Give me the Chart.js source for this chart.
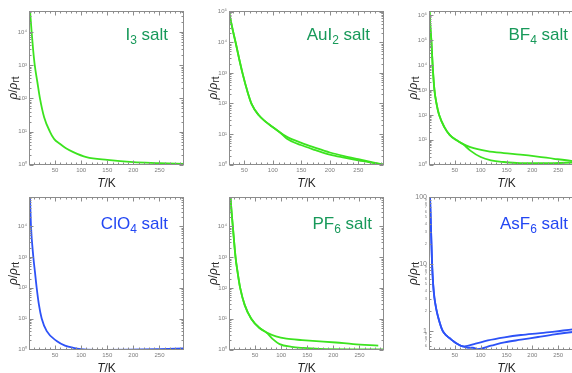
<!DOCTYPE html>
<html>
<head>
<meta charset="utf-8">
<script src="https://cdn.jsdelivr.net/npm/chart.js@4.4.1/dist/chart.umd.min.js"></script>
<style>
  html, body { margin: 0; padding: 0; background: #fff; width: 572px; height: 373px; overflow: hidden; position: relative; }
  canvas { position: absolute; }
</style>
</head>
<body>
<canvas id="p1" width="200" height="190" style="left:0;top:0"></canvas>
<canvas id="p2" width="200" height="190" style="left:200px;top:0"></canvas>
<canvas id="p3" width="200" height="190" style="left:400px;top:0"></canvas>
<canvas id="p4" width="200" height="188" style="left:0;top:185px"></canvas>
<canvas id="p5" width="200" height="188" style="left:200px;top:185px"></canvas>
<canvas id="p6" width="200" height="188" style="left:400px;top:185px"></canvas>
<script>
const FONT = '"Liberation Sans", Arial, sans-serif';
const GREEN = '#3ce31f';
const GREEN_TXT = '#18995a';
const BLUE = '#2d52f7';
const BLUE_TXT = '#2347f3';
const SUP = ['⁰', '¹', '²', '³', '⁴', '⁵', '⁶', '⁷'];

// I3 salt
const tI3 = [2.2, 5, 8, 11, 16, 21, 29, 40, 48, 59, 70, 85, 110, 150, 200, 250, 297];
const rI3 = [39800, 10000, 2800, 1000, 310, 100, 27, 10, 6.0, 4.3, 3.2, 2.4, 1.7, 1.4, 1.2, 1.12, 1.05];

// AuI2 salt: common part, then the two branches
const tAuI2 = [23, 29, 35, 41, 47, 55, 63, 75, 87, 99, 112];
const rAuI2 = [100000, 28200, 9100, 2800, 930, 260, 93, 42, 25.7, 17.4, 11.5];
const tAuI2Up = [124, 149, 175, 200, 225, 250, 275, 295];
const rAuI2Up = [8.3, 5.25, 3.55, 2.51, 1.91, 1.51, 1.2, 1.0];
const tAuI2Dn = [124, 149, 175, 200, 225, 250, 275, 295];
const rAuI2Dn = [7.2, 4.4, 3.0, 2.14, 1.7, 1.38, 1.15, 1.0];

// BF4 salt
const tBF4 = [1, 3, 4.5, 7, 10.5, 15, 19.5, 30, 40, 52, 65];
const rBF4 = [1410000, 251000, 100000, 10000, 1000, 251, 100, 31.6, 15.8, 10, 6.9];
const tBF4Up = [80, 113, 145, 177, 210, 242, 278, 300];
const rBF4Up = [5.1, 3.55, 2.95, 2.57, 2.14, 1.74, 1.41, 1.3];
const tBF4Dn = [80, 100, 120, 145, 177, 210, 242, 278, 300];
const rBF4Dn = [3.7, 2.04, 1.5, 1.29, 1.17, 1.16, 1.17, 1.23, 1.26];

// ClO4 salt
const tClO4 = [1.9, 3.8, 8.3, 11.5, 14.7, 19, 24.3, 34, 53, 69, 85, 110, 150, 193, 250, 297];
const rClO4 = [85000, 10000, 1000, 316, 100, 28.2, 10, 3.9, 1.86, 1.32, 1.12, 0.98, 0.965, 0.975, 1.02, 1.07];

// PF6 salt
const tPF6 = [2.8, 5, 7.3, 12.5, 17, 21.4, 30, 42.6, 58.6, 71.4];
const rPF6 = [89000, 28200, 10000, 1000, 282, 100, 28.2, 10, 5.0, 3.63];
const tPF6Up = [90, 110, 140, 174, 205, 238, 286];
const rPF6Up = [2.69, 2.26, 2.04, 1.86, 1.7, 1.51, 1.35];
const tPF6Dn = [84, 97, 120, 142, 174, 238, 297];
const rPF6Dn = [2.19, 1.51, 1.23, 1.13, 1.05, 1.02, 1.02];

// AsF6 salt
const tAsF6 = [2, 3, 4, 6, 8, 10.4, 14, 18, 26.5, 34, 42.7, 52, 62];
const rAsF6 = [100, 56, 31, 9.8, 5.0, 3.16, 2.14, 1.58, 1.0, 0.85, 0.75, 0.66, 0.6];
const tAsF6Up = [68.5, 90, 114, 146, 178, 211, 243, 278, 300];
const rAsF6Up = [0.59, 0.646, 0.724, 0.804, 0.871, 0.923, 0.977, 1.06, 1.1];
const tAsF6Dn = [75, 85, 94, 120, 146, 178, 211, 243, 278, 300];
const rAsF6Dn = [0.562, 0.562, 0.537, 0.603, 0.676, 0.741, 0.813, 0.891, 0.966, 1.0];

function pontos(ts, rs) {
  return ts.map((t, i) => ({ x: t, y: rs[i] }));
}

function isPow10(v) {
  const e = Math.log10(v);
  return Math.abs(e - Math.round(e)) < 1e-6;
}

// values m * 10^e inside [min, max]; only decades unless comMenores
function ticksLog(min, max, comMenores) {
  const lista = [];
  for (let e = Math.floor(Math.log10(min)); e <= Math.ceil(Math.log10(max)); e++) {
    for (let m = 1; m < 10; m++) {
      if (m > 1 && !comMenores) continue;
      const v = parseFloat((m * Math.pow(10, e)).toPrecision(6));
      if (v >= min && v <= max) lista.push({ value: v, mant: m });
    }
  }
  return lista;
}

// frame with inward ticks on all four sides
const framePlugin = {
  id: 'moldura',
  afterDatasetsDraw(chart) {
    const { ctx, chartArea: a, scales: { x, y } } = chart;
    ctx.save();
    ctx.strokeStyle = '#8c8c8c';
    ctx.lineWidth = 1;
    const L = Math.round(a.left) + 0.5, R = Math.round(a.right) - 0.5;
    const T = Math.round(a.top) + 0.5, B = Math.round(a.bottom) - 0.5;
    ctx.strokeRect(L, T, R - L, B - T);
    ctx.beginPath();
    for (let v = Math.ceil(x.min / 10) * 10; v <= x.max; v += 10) {
      const px = Math.round(x.getPixelForValue(v)) + 0.5;
      const len = v % 50 === 0 ? 4 : 2;
      ctx.moveTo(px, B); ctx.lineTo(px, B - len);
      ctx.moveTo(px, T); ctx.lineTo(px, T + len);
    }
    ticksLog(y.min, y.max, true).forEach((t) => {
      const py = Math.round(y.getPixelForValue(t.value)) + 0.5;
      const len = t.mant === 1 ? 4 : 2;
      ctx.moveTo(L, py); ctx.lineTo(L + len, py);
      ctx.moveTo(R, py); ctx.lineTo(R - len, py);
    });
    ctx.stroke();
    ctx.restore();
  }
};

// panel name and axis titles
const textPlugin = {
  id: 'textos',
  afterDraw(chart, args, opts) {
    const { ctx, chartArea: a } = chart;
    ctx.save();
    const big = '17px ' + FONT, small = '12px ' + FONT;
    ctx.font = big;
    const w1 = ctx.measureText(opts.name).width;
    const w3 = ctx.measureText(' salt').width;
    ctx.font = small;
    const w2 = ctx.measureText(opts.sub).width;
    let x = a.right - opts.inset - (w1 + w2 + w3);
    const yb = a.top + opts.dy;
    ctx.fillStyle = opts.color;
    ctx.textAlign = 'left';
    ctx.textBaseline = 'alphabetic';
    ctx.font = big; ctx.fillText(opts.name, x, yb); x += w1;
    ctx.font = small; ctx.fillText(opts.sub, x, yb + 4); x += w2;
    ctx.font = big; ctx.fillText(' salt', x, yb);

    // T/K
    ctx.fillStyle = '#262626';
    ctx.textBaseline = 'middle';
    const it = 'italic 12px ' + FONT, nf = '12px ' + FONT;
    ctx.font = it; const wt = ctx.measureText('T').width;
    ctx.font = nf; const wk = ctx.measureText('/K').width;
    const xs = (a.left + a.right) / 2 - (wt + wk) / 2;
    const ys = a.bottom + 19;
    ctx.font = it; ctx.fillText('T', xs, ys);
    ctx.font = nf; ctx.fillText('/K', xs + wt, ys);

    // rho / rho_rt, rotated
    ctx.translate(a.left - 15, (a.top + a.bottom) / 2);
    ctx.rotate(-Math.PI / 2);
    const sf = '10px ' + FONT;
    ctx.font = it; const wr = ctx.measureText('ρ').width;
    ctx.font = nf; const ws = ctx.measureText('/').width;
    ctx.font = sf; const wrt = ctx.measureText('rt').width;
    let p = -(wr * 2 + ws + wrt) / 2;
    ctx.font = it; ctx.fillText('ρ', p, 0); p += wr;
    ctx.font = nf; ctx.fillText('/', p, 0); p += ws;
    ctx.font = it; ctx.fillText('ρ', p, 0); p += wr;
    ctx.font = sf; ctx.fillText('rt', p, 2);
    ctx.restore();
  }
};

function linha(data, cor) {
  return {
    data: data,
    borderColor: cor,
    borderWidth: 1.8,
    pointRadius: 0,
    fill: false,
    cubicInterpolationMode: 'monotone'
  };
}

function criarPainel(id, cfg) {
  const ctx = document.getElementById(id).getContext('2d');
  const yTicks = {
    autoSkip: false,
    padding: 2,
    color: '#7d7d7d',
    font: { size: 6, family: FONT },
    callback: (v) => isPow10(v) ? '10' + SUP[Math.round(Math.log10(v))] : ''
  };
  if (cfg.plainY) {
    yTicks.callback = (v) => {
      if (isPow10(v)) return String(v);
      const m = v / Math.pow(10, Math.floor(Math.log10(v) + 1e-9));
      return String(Math.round(m));
    };
    yTicks.font = (c) => ({ size: c.tick && isPow10(c.tick.value) ? 7 : 4, family: FONT });
  }
  return new Chart(ctx, {
    type: 'line',
    data: { datasets: cfg.datasets },
    plugins: [framePlugin, textPlugin],
    options: {
      responsive: false,
      animation: false,
      devicePixelRatio: 1,
      events: [],
      layout: { padding: { top: cfg.top, right: 16, bottom: 0, left: 0 } },
      scales: {
        x: {
          type: 'linear',
          min: cfg.xMin,
          max: cfg.xMax,
          grid: { display: false, drawTicks: false },
          border: { display: false },
          ticks: {
            stepSize: 50,
            autoSkip: false,
            maxRotation: 0,
            padding: 2,
            color: '#7d7d7d',
            font: { size: 6, family: FONT },
            callback: (v) => (v % 50 === 0 && v > 0) ? String(v) : ''
          },
          afterFit: (s) => { s.height = cfg.xH; }
        },
        y: {
          type: 'logarithmic',
          min: cfg.yMin,
          max: cfg.yMax,
          grid: { display: false, drawTicks: false },
          border: { display: false },
          ticks: yTicks,
          afterBuildTicks: (s) => {
            s.ticks = ticksLog(s.min, s.max, !!cfg.plainY).map((t) => ({ value: t.value }));
          },
          afterFit: (s) => { s.width = 29; }
        }
      },
      plugins: {
        legend: { display: false },
        tooltip: { enabled: false },
        textos: cfg.panel
      }
    }
  });
}

criarPainel('p1', {
  top: 11, xH: 25, xMin: 0, xMax: 297, yMin: 0.98, yMax: 42700,
  datasets: [linha(pontos(tI3, rI3), GREEN)],
  panel: { name: 'I', sub: '3', color: GREEN_TXT, inset: 16, dy: 29 }
});

criarPainel('p2', {
  top: 11, xH: 25, xMin: 23, xMax: 295, yMin: 0.98, yMax: 105000,
  datasets: [
    linha(pontos(tAuI2.concat(tAuI2Up), rAuI2.concat(rAuI2Up)), GREEN),
    linha(pontos(tAuI2.concat(tAuI2Dn), rAuI2.concat(rAuI2Dn)), GREEN)
  ],
  panel: { name: 'AuI', sub: '2', color: GREEN_TXT, inset: 14, dy: 29 }
});

criarPainel('p3', {
  top: 11, xH: 25, xMin: 0, xMax: 300, yMin: 0.98, yMax: 1450000,
  datasets: [
    linha(pontos(tBF4.concat(tBF4Up), rBF4.concat(rBF4Up)), GREEN),
    linha(pontos(tBF4.concat(tBF4Dn), rBF4.concat(rBF4Dn)), GREEN)
  ],
  panel: { name: 'BF', sub: '4', color: GREEN_TXT, inset: 16, dy: 29 }
});

criarPainel('p4', {
  top: 12, xH: 23, xMin: 0, xMax: 297, yMin: 0.95, yMax: 89000,
  datasets: [linha(pontos(tClO4, rClO4), BLUE)],
  panel: { name: 'ClO', sub: '4', color: BLUE_TXT, inset: 16, dy: 32 }
});

criarPainel('p5', {
  top: 12, xH: 23, xMin: 0, xMax: 297, yMin: 0.97, yMax: 89000,
  datasets: [
    linha(pontos(tPF6.concat(tPF6Up), rPF6.concat(rPF6Up)), GREEN),
    linha(pontos(tPF6.concat(tPF6Dn), rPF6.concat(rPF6Dn)), GREEN)
  ],
  panel: { name: 'PF', sub: '6', color: GREEN_TXT, inset: 12, dy: 32 }
});

criarPainel('p6', {
  top: 12, xH: 23, xMin: 0, xMax: 300, yMin: 0.52, yMax: 100, plainY: true,
  datasets: [
    linha(pontos(tAsF6.concat(tAsF6Up), rAsF6.concat(rAsF6Up)), BLUE),
    linha(pontos(tAsF6.concat(tAsF6Dn), rAsF6.concat(rAsF6Dn)), BLUE)
  ],
  panel: { name: 'AsF', sub: '6', color: BLUE_TXT, inset: 16, dy: 32 }
});
</script>
</body>
</html>
